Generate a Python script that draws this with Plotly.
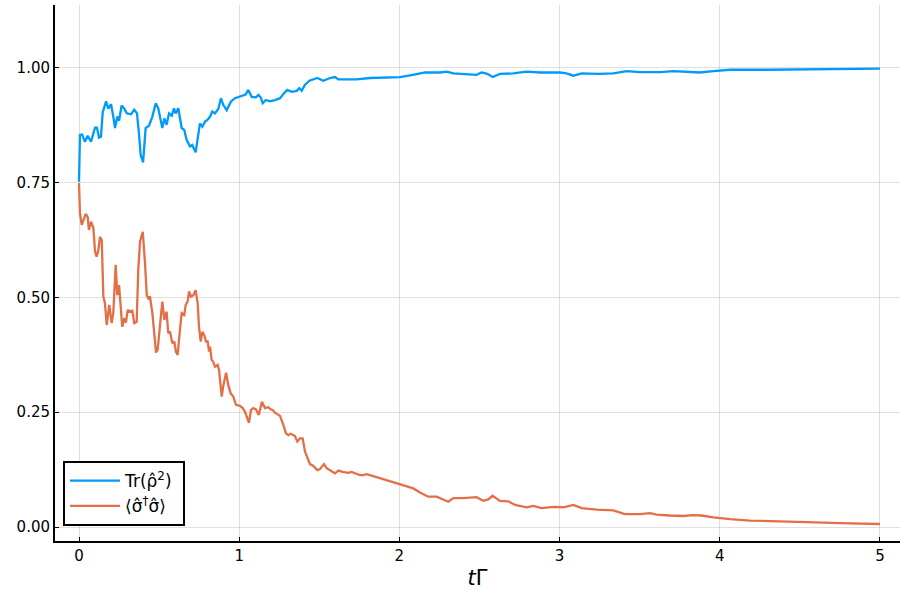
import plotly.graph_objects as go

# Tr(rho^2) series
t_purity = [0, .006, .02, .037, .054, .075, .10, .112, .125, .137,
            .148, .169, .183, .20, .214, .225, .239, .25, .266, .283,
            .298, .325, .345, .362, .375, .385, .40, .416, .437, .458,
            .479, .495, .52, .533, .547, .562, .579, .593, .603, .62,
            .641, .657, .672, .693, .707, .728, .755, .77, .787, .803,
            .818, .832, .849, .87, .886, .901, .922, .949, .974, .995,
            1.026, 1.04, 1.057, 1.078, 1.105, 1.12, 1.134, 1.147, 1.167, 1.192,
            1.223, 1.255, 1.28, 1.30, 1.328, 1.359, 1.375, 1.39, 1.41, 1.438,
            1.488, 1.525, 1.567, 1.598, 1.619, 1.69, 1.733, 1.817, 1.94, 2.004,
            2.085, 2.16, 2.253, 2.295, 2.337, 2.482, 2.513, 2.549, 2.582, 2.628,
            2.711, 2.795, 2.878, 3.002, 3.044, 3.086, 3.138, 3.242, 3.335, 3.419,
            3.502, 3.627, 3.71, 3.793, 3.876, 3.96, 4.064, 4.29, 4.5, 4.71,
            5.0]
purity = [.752, .854, .855, .839, .852, .839, .870, .870, .848, .850,
          .903, .927, .911, .921, .894, .869, .894, .885, .918, .911,
          .901, .899, .909, .901, .854, .810, .794, .869, .874, .894,
          .923, .912, .869, .890, .876, .901, .896, .912, .901, .912,
          .869, .865, .843, .829, .832, .816, .879, .872, .883, .887,
          .894, .905, .901, .911, .934, .919, .908, .927, .934, .937,
          .940, .942, .952, .937, .936, .941, .936, .923, .930, .927,
          .930, .934, .945, .952, .948, .950, .956, .950, .963, .972,
          .978, .972, .978, .980, .975, .975, .975, .978, .980, .980,
          .985, .990, .990, .992, .988, .985, .990, .987, .980, .987,
          .988, .992, .990, .990, .988, .983, .988, .987, .988, .993,
          .991, .991, .993, .992, .990, .993, .996, .996, .997, .998,
          .9985]

# <sigma^dagger sigma> series
t_pop = [0, .006, .017, .027, .042, .054, .062, .075, .09, .10,
         .11, .121, .131, .142, .152, .162, .173, .189, .204, .214,
         .229, .239, .25, .262, .27, .283, .293, .304, .318, .333,
         .345, .36, .37, .381, .398, .412, .423, .433, .443, .458,
         .47, .481, .491, .506, .52, .533, .547, .557, .568, .583,
         .595, .605, .616, .63, .641, .657, .666, .678, .687, .699,
         .714, .728, .741, .749, .76, .77, .782, .793, .803, .812,
         .818, .828, .838, .849, .866, .874, .891, .90, .918, .932,
         .947, .963, .98, 1.005, 1.022, 1.036, 1.047, 1.061, 1.074, 1.088,
         1.105, 1.122, 1.13, 1.142, 1.161, 1.182, 1.197, 1.209, 1.223, 1.255,
         1.276, 1.292, 1.307, 1.321, 1.348, 1.363, 1.379, 1.396, 1.411, 1.425,
         1.442, 1.463, 1.488, 1.504, 1.529, 1.546, 1.571, 1.598, 1.619, 1.646,
         1.681, 1.702, 1.723, 1.754, 1.775, 1.796, 1.837, 1.90, 2.004, 2.087,
         2.129, 2.18, 2.233, 2.274, 2.305, 2.337, 2.399, 2.482, 2.524, 2.555,
         2.582, 2.628, 2.68, 2.722, 2.795, 2.836, 2.888, 2.961, 3.023, 3.086,
         3.138, 3.232, 3.335, 3.408, 3.502, 3.564, 3.606, 3.689, 3.772, 3.834,
         3.886, 3.96, 4.064, 4.188, 4.396, 4.605, 4.813, 5.0]
population = [.749, .683, .658, .669, .682, .676, .647, .665, .651, .600,
              .589, .603, .632, .625, .502, .487, .440, .484, .444, .466,
              .571, .505, .527, .473, .436, .455, .445, .473, .469, .471,
              .444, .447, .560, .622, .643, .575, .505, .498, .502, .466,
              .415, .380, .386, .444, .491, .451, .469, .422, .426, .400,
              .404, .382, .375, .429, .466, .462, .484, .491, .513, .502,
              .505, .516, .487, .436, .404, .425, .418, .404, .404, .382,
              .393, .364, .360, .349, .353, .342, .284, .306, .336, .309,
              .291, .284, .266, .264, .259, .251, .240, .227, .255, .259,
              .256, .244, .255, .273, .259, .261, .256, .255, .249, .242,
              .222, .204, .200, .203, .198, .186, .193, .193, .164, .153,
              .137, .133, .124, .126, .137, .128, .123, .117, .123, .120,
              .118, .120, .117, .113, .113, .115, .111, .104, .094, .084,
              .075, .066, .066, .060, .055, .063, .063, .065, .057, .060,
              .068, .057, .056, .048, .043, .046, .041, .044, .043, .048,
              .041, .038, .036, .028, .028, .030, .027, .025, .024, .026,
              .025, .021, .017, .014, .0116, .0094, .008, .0065]

x_ticks = [0, 1, 2, 3, 4, 5]
y_ticks = [0.0, 0.25, 0.5, 0.75, 1.0]
y_tick_labels = ["0.00", "0.25", "0.50", "0.75", "1.00"]

names = ["Tr(ρ̂<sup>2</sup>) ", "⟨σ̂<sup>†</sup>σ̂⟩ "]
colors = ["#009AFA", "#E36F47"]

fig = go.Figure()
fig.add_trace(go.Scatter(x=t_purity, y=purity, mode="lines", name=names[0],
                         line=dict(color=colors[0], width=2.3)))
fig.add_trace(go.Scatter(x=t_pop, y=population, mode="lines", name=names[1],
                         line=dict(color=colors[1], width=2.3)))

axis_common = dict(showline=True, linecolor="black", linewidth=2, mirror=False,
                   showgrid=True, gridcolor="rgba(0,0,0,0.12)", gridwidth=1,
                   zeroline=False, ticks="inside", ticklen=4, tickcolor="black",
                   tickwidth=1, tickfont=dict(size=15, color="black"))

fig.update_layout(
    width=900, height=597,
    margin=dict(l=55, r=0, t=5, b=56),
    paper_bgcolor="white", plot_bgcolor="white",
    font=dict(family="DejaVu Sans", color="black"),
    showlegend=True,
    legend=dict(x=0.0095, y=0.149, xanchor="left", yanchor="top",
                bgcolor="white", bordercolor="black", borderwidth=2,
                font=dict(size=17), tracegroupgap=0, itemwidth=50,
                valign="middle"),
    xaxis=dict(range=[-0.1498, 5.125], tickvals=x_ticks,
               title=dict(text="<i>t</i>Γ", font=dict(size=21), standoff=6),
               **axis_common),
    yaxis=dict(range=[-0.0305, 1.137], tickvals=y_ticks, ticktext=y_tick_labels,
               **axis_common),
)

fig.write_html("out.html")
